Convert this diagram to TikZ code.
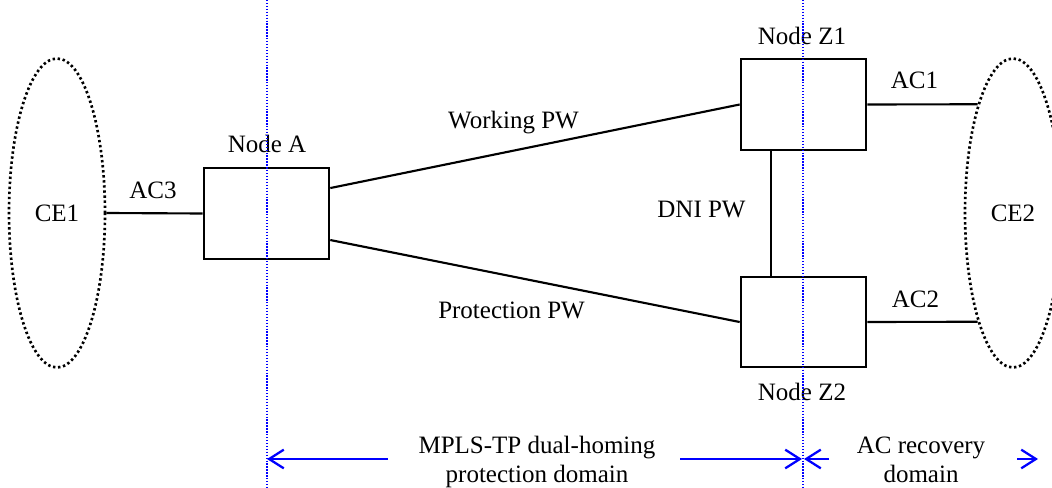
\documentclass[tikz,border=0pt]{standalone}
\usepackage{fontspec}
\setmainfont{Liberation Serif}
\usetikzlibrary{arrows.meta,shapes.geometric}
\begin{document}
\begin{tikzpicture}[x=0.75pt, y=-0.75pt,
  every node/.style={font=\fontsize{18.75}{21.75}\selectfont},
  ce/.style={ellipse, draw, line width=2pt, dash pattern=on 1.8pt off 2pt,
    minimum width=72pt, minimum height=231.75pt, inner sep=0pt},
  nebox/.style={draw, line width=2pt, minimum width=93.75pt,
    minimum height=68.25pt, inner sep=0pt},
  link/.style={line width=1.6pt},
  lbl/.style={anchor=base, inner sep=0pt},
  boundary/.style={blue, line width=0.9pt, dash pattern=on 1pt off 1.2pt},
  span/.style={blue, line width=1.7pt, -{Straight Barb[length=11pt,width=14pt]}},
]
\useasboundingbox (0,0) rectangle (1052,488);

% customer edges
\node[ce] (ce1) at (57,213) {CE1};
\node[ce] (ce2) at (1013,213) {CE2};

% PE nodes
\node[nebox] (a) at (266.5,213.5) {};
\node[nebox] (z1) at (803.5,104.5) {};
\node[nebox, minimum height=67.5pt] (z2) at (803.5,322) {};

% attachment circuits and pseudowires
\draw[link] (ce1.east) -- (a.west);
\draw[link] ([yshift=19.1pt]a.east) -- (z1.west);
\draw[link] ([yshift=-19.9pt]a.east) -- (z2.west);
\draw[link] ([xshift=-24.4pt]z1.south) -- ([xshift=-24.4pt]z2.north);
\draw[link] (z1.east) -- (ce2.108);
\draw[link] (z2.east) -- (ce2.252);

% labels
\node[lbl] (la) at (267,153) {Node A};
\node[lbl] (lz1) at (802,45) {Node Z1};
\node[lbl] (lz2) at (802,400) {Node Z2};
\node[lbl] (lac3) at (153,199) {AC3};
\node[lbl] (lac1) at (914.5,89) {AC1};
\node[lbl] (lac2) at (915.5,307) {AC2};
\node[lbl] (ldni) at (701.5,217.7) {DNI PW};
\node[lbl] (lwork) at (513.5,129) {Working PW};
\node[lbl] (lprot) at (511.5,318.3) {Protection PW};

% domain boundaries
\coordinate (b1t) at (267,0);
\coordinate (b1b) at (267,488);
\coordinate (b2t) at (803,0);
\coordinate (b2b) at (803,488);
\draw[boundary] (b1t) -- (b1b);
\draw[boundary] (b2t) -- (b2b);

% domain extents
\coordinate (s1) at (388,459);
\coordinate (s1e) at (267,459);
\coordinate (s2) at (680,459);
\coordinate (s2e) at (802,459);
\coordinate (s3) at (829,459);
\coordinate (s3e) at (804,459);
\coordinate (s4) at (1017,459);
\coordinate (s4e) at (1038,459);
\draw[span] (s1) -- (s1e);
\draw[span] (s2) -- (s2e);
\draw[span] (s3) -- (s3e);
\draw[span] (s4) -- (s4e);

% domain names (anchor sits on the last line's baseline)
\node[align=center, anchor=base, inner sep=0pt] (dom1) at (537,482)
  {MPLS-TP dual-homing\\protection domain};
\node[align=center, anchor=base, inner sep=0pt] (dom2) at (921,482)
  {AC recovery\\domain};
\end{tikzpicture}
\end{document}
